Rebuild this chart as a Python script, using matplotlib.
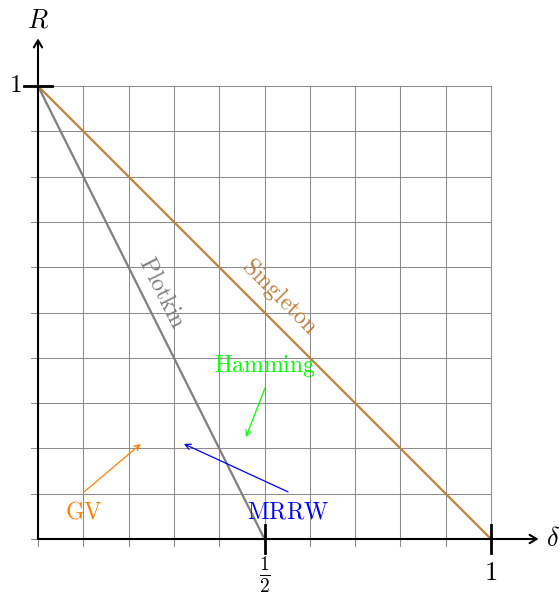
import matplotlib
matplotlib.use("Agg")
import matplotlib.pyplot as plt
import numpy as np

plt.rcParams['mathtext.fontset'] = 'cm'
plt.rcParams['font.family'] = ['DejaVu Serif']

# Bounds on the rate R(delta) of codes
plotkin_delta = [0.0, 0.5]
plotkin_rate = [1.0, 0.0]
singleton_delta = [0.0, 1.0]
singleton_rate = [1.0, 0.0]

grid_ticks = np.round(np.arange(0, 1.01, 0.1), 2)
x_tick_values = [0.5, 1.0]
x_tick_labels = [r'$\frac{1}{2}$', r'$1$']
x_tick_sizes = [20, 19]
x_tick_offsets = [-0.079, -0.073]
y_tick_values = [1.0]
y_tick_labels = [r'$1$']

# Annotations: name, text position, arrow start, arrow end, colour
notes = [
    ("GV", (0.102, 0.060), (0.102, 0.104), (0.227, 0.21), "#ff8000"),
    ("MRRW", (0.552, 0.060), (0.552, 0.104), (0.322, 0.21), "#0000ff"),
    ("Hamming", (0.501, 0.381), (0.501, 0.333), (0.459, 0.225), "#00ff00"),
]

fig = plt.figure(figsize=(5.6, 5.92), dpi=100)
ax = fig.add_axes([0, 0, 1, 1])
ax.set_xlim(-38 / 453, 522 / 453)
ax.set_ylim(-53 / 453, 539 / 453)
ax.axis('off')

# grid
gc = '#8c8c8c'
for g in grid_ticks:
    ax.plot([g, g], [-0.015, 1.0], color=gc, lw=0.75, zorder=1)
    ax.plot([-0.015, 1.0], [g, g], color=gc, lw=0.75, zorder=1)

# axes with arrows
ax.annotate('', xy=(1.105, 0), xytext=(0, 0),
            arrowprops=dict(arrowstyle='->,head_length=0.5,head_width=0.3', lw=1.5, color='black',
                            shrinkA=0, shrinkB=0), zorder=5)
ax.annotate('', xy=(0, 1.105), xytext=(0, 0),
            arrowprops=dict(arrowstyle='->,head_length=0.5,head_width=0.3', lw=1.5, color='black',
                            shrinkA=0, shrinkB=0), zorder=5)
ax.text(0, 1.146, r'$R$', ha='center', va='center', fontsize=19)
ax.text(1.137, 0.0, r'$\delta$', ha='center', va='center', fontsize=19)

for v, lab, fs, off in zip(x_tick_values, x_tick_labels, x_tick_sizes, x_tick_offsets):
    ax.plot([v, v], [-0.031, 0.031], color='black', lw=2.0, zorder=6)
    ax.text(v, off, lab, ha='center', va='center', fontsize=fs)
for v, lab in zip(y_tick_values, y_tick_labels):
    ax.plot([-0.031, 0.031], [v, v], color='black', lw=2.0, zorder=6)
    ax.text(-0.037, v, lab, ha='right', va='center', fontsize=18)

# bounds
ax.plot(plotkin_delta, plotkin_rate, color='#7f7f7f', lw=1.6, zorder=3)
ax.plot(singleton_delta, singleton_rate, color='#bf8040', lw=1.6, zorder=3)
ax.text(0.274, 0.543, r'$\mathrm{Plotkin}$', color='#7f7f7f', fontsize=17,
        rotation=-63.4, rotation_mode='anchor', ha='center', va='center')
ax.text(0.534, 0.534, r'$\mathrm{Singleton}$', color='#bf8040', fontsize=17,
        rotation=-45, rotation_mode='anchor', ha='center', va='center')

for name, tpos, start, end, col in notes:
    ax.text(tpos[0], tpos[1], r'$\mathrm{' + name + '}$', color=col, fontsize=17,
            ha='center', va='center')
    ax.annotate('', xy=end, xytext=start,
                arrowprops=dict(arrowstyle='->,head_length=0.4,head_width=0.2', lw=0.9, color=col,
                                shrinkA=0, shrinkB=0), zorder=4)

fig.savefig('out.png', dpi=100)
